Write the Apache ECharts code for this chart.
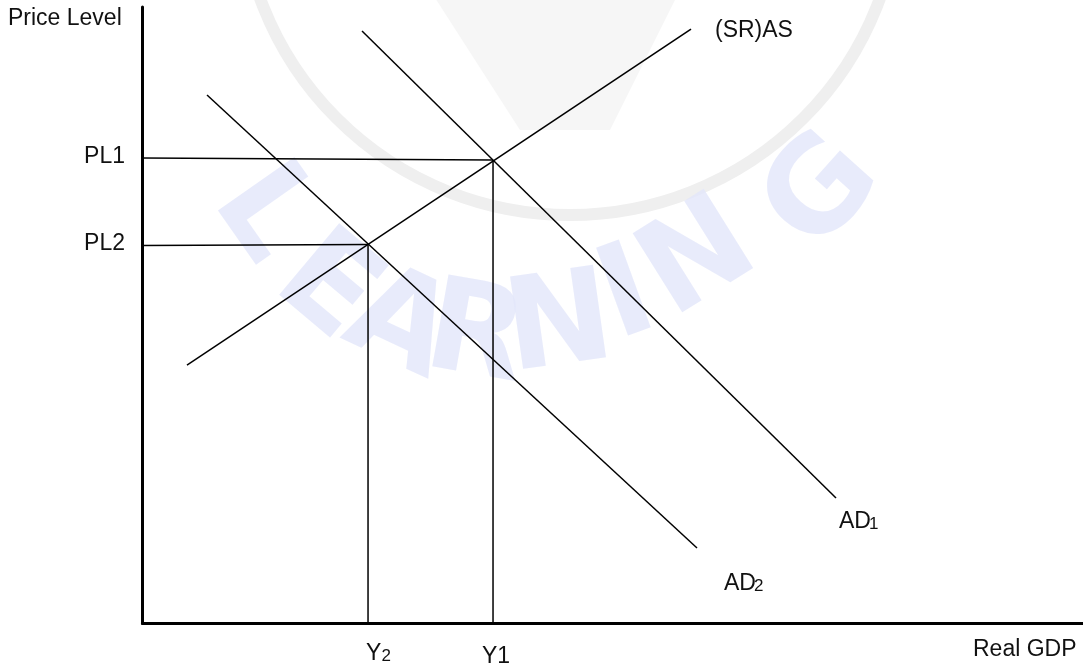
<!DOCTYPE html>
<html>
<head>
<meta charset="utf-8">
<script src="https://cdn.jsdelivr.net/npm/echarts@6/dist/echarts.min.js"></script>
<style>html,body{margin:0;padding:0;background:#fff;}#c{width:1083px;height:668px;}</style>
</head>
<body>
<div id="c"></div>
<script>
// Data (axis units 0..100 on both axes)
const E1 = [37.27, 75.18];           // AD1 ∩ SRAS
const E2 = [23.98, 61.48];           // AD2 ∩ SRAS
const SRAS = [[4.73, 41.93], [58.32, 96.43]];
const AD1 = [[23.34, 96.11], [73.74, 20.36]];
const AD2 = [[6.86, 85.73], [58.96, 12.25]];
const PL1 = [[0, 75.51], E1];
const PL2 = [[-0.69, 61.31], E2];
const Y1 = [[E1[0], 0], E1];
const Y2 = [[E2[0], 0], E2];

const FONT = '23px "Liberation Sans", Arial, sans-serif';
const SUB = '17px "Liberation Sans", Arial, sans-serif';

function txt(x, y, s, font, align) {
  return { type: 'text', x: x, y: y, z: 50,
    style: { text: s, font: font || FONT, fill: '#111', textAlign: align || 'left', textVerticalAlign: 'middle' } };
}
function wm(x, y, s, rot) {
  return { type: 'text', x: x, y: y, rotation: rot * Math.PI / 180, z: -10,
    style: { text: s, font: '900 128px "DejaVu Sans", sans-serif', fill: 'rgba(226,230,250,0.8)', textAlign: 'center', textVerticalAlign: 'middle' } };
}

function lineSeries(name, data) {
  return { name: name, type: 'line', data: data, symbol: 'none', clip: false, silent: true,
    lineStyle: { color: '#000', width: 1.5 }, z: 5 };
}

const chart = echarts.init(document.getElementById('c'), null, { renderer: 'canvas' });
chart.setOption({
  animation: false,
  backgroundColor: '#fff',
  grid: { left: 142.5, top: 7, right: 0, bottom: 44.5, containLabel: false },
  xAxis: { type: 'value', min: 0, max: 100, axisLine: { show: true, onZero: false, lineStyle: { color: '#000', width: 3 } },
    axisTick: { show: false }, axisLabel: { show: false }, splitLine: { show: false } },
  yAxis: { type: 'value', min: 0, max: 100, axisLine: { show: true, onZero: false, lineStyle: { color: '#000', width: 3 } },
    axisTick: { show: false }, axisLabel: { show: false }, splitLine: { show: false } },
  series: [
    lineSeries('(SR)AS', SRAS),
    lineSeries('AD1', AD1),
    lineSeries('AD2', AD2),
    lineSeries('PL1', PL1),
    lineSeries('PL2', PL2),
    lineSeries('Y1', Y1),
    lineSeries('Y2', Y2)
  ],
  graphic: [
    { type: 'circle', shape: { cx: 570, cy: -115, r: 330 }, z: -10,
      style: { fill: 'none', stroke: '#efefef', lineWidth: 12 } },
    { type: 'polyline', shape: { points: [[430, -10], [520, 130], [610, 130], [680, -10]] }, z: -11,
      style: { fill: '#f6f6f6', stroke: 'none' } },
    wm(262, 215, 'L', -55),
    wm(325, 290, 'E', -40),
    wm(398, 328, 'A', -25),
    wm(475, 340, 'R', -10),
    wm(560, 330, 'N', 8),
    wm(628, 300, 'I', 20),
    wm(700, 262, 'N', 32),
    wm(825, 195, 'G', 48),
    txt(8, 19, 'Price Level'),
    txt(125, 157, 'PL1', FONT, 'right'),
    txt(125, 243.7, 'PL2', FONT, 'right'),
    txt(715, 31, '(SR)AS'),
    txt(839, 522, 'AD'),
    txt(869, 524, '1', SUB),
    txt(724, 584, 'AD'),
    txt(754, 586, '2', SUB),
    txt(366, 654, 'Y'),
    txt(381.5, 656, '2', SUB),
    txt(482, 657, 'Y1'),
    txt(973, 650, 'Real GDP')
  ]
});
</script>
</body>
</html>
